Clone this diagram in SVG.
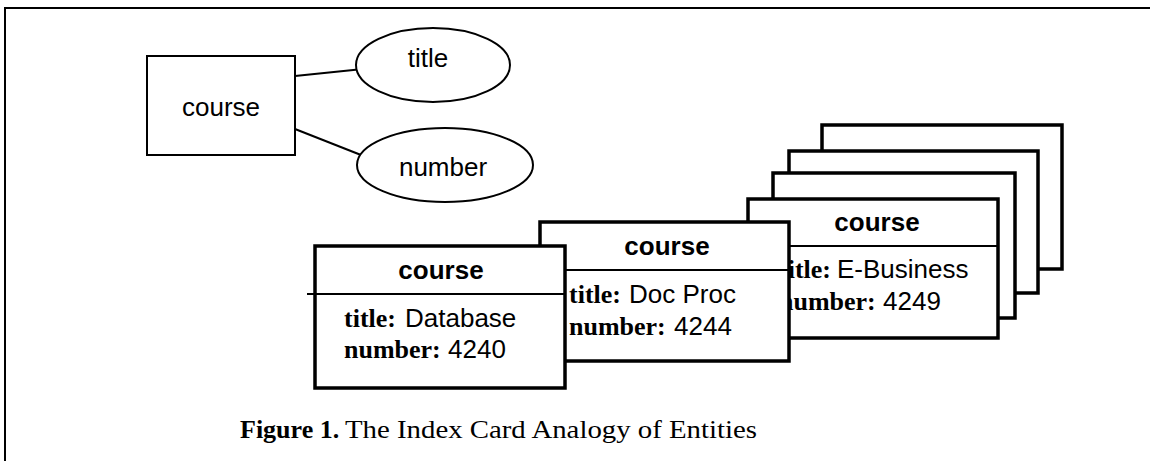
<svg xmlns="http://www.w3.org/2000/svg" width="1150" height="461" viewBox="0 0 1150 461">
  <style>
    .frame { fill: none; stroke: #000; stroke-width: 2; }
    .entity { fill: #fff; stroke: #000; stroke-width: 2; }
    .attr { fill: #fff; stroke: #000; stroke-width: 2; }
    .link { stroke: #000; stroke-width: 2; fill: none; }
    .card { fill: #fff; stroke: #000; stroke-width: 3.5; }
    .rule { stroke: #000; stroke-width: 2; }
    .sans { font-family: "Liberation Sans", Arial, sans-serif; font-size: 26px; fill: #000; }
    .head { font-family: "Liberation Sans", Arial, sans-serif; font-size: 26px; font-weight: bold; fill: #000; }
    .key { font-family: "Liberation Serif", "Times New Roman", serif; font-weight: bold; }
    .cap { font-family: "Liberation Serif", "Times New Roman", serif; font-size: 26px; fill: #000; }
  </style>

  <!-- page frame -->
  <path class="frame" d="M5,461 V8 H1150"/>

  <!-- connectors between entity and attributes -->
  <g id="connectors">
    <line class="link" x1="295" y1="76" x2="363" y2="69"/>
    <line class="link" x1="295" y1="129" x2="361" y2="155"/>
  </g>

  <g id="entity-course">
    <rect class="entity" x="147" y="56" width="148" height="99"/>
    <text class="sans" x="221" y="116" text-anchor="middle">course</text>
  </g>

  <g id="attr-title">
    <ellipse class="attr" cx="433" cy="65" rx="77" ry="37"/>
    <text class="sans" x="428" y="67" text-anchor="middle">title</text>
  </g>

  <g id="attr-number">
    <ellipse class="attr" cx="445" cy="165" rx="88" ry="37"/>
    <text class="sans" x="443" y="176" text-anchor="middle">number</text>
  </g>

  <!-- stacked index cards, back to front -->
  <g id="card-6">
    <rect class="card" x="822" y="125" width="240" height="144"/>
  </g>
  <g id="card-5">
    <rect class="card" x="789" y="151" width="249" height="142"/>
  </g>
  <g id="card-4">
    <rect class="card" x="773" y="173" width="242" height="145"/>
  </g>
  <g id="card-3">
    <rect class="card" x="748" y="199" width="250" height="139"/>
    <line class="rule" x1="748" y1="246" x2="998" y2="246"/>
    <text class="head" x="877" y="231" text-anchor="middle">course</text>
    <text class="sans" y="278"><tspan class="key" x="779">title:</tspan><tspan x="837">E-Business</tspan></text>
    <text class="sans" y="310"><tspan class="key" x="779">number:</tspan><tspan x="883">4249</tspan></text>
  </g>
  <g id="card-2">
    <rect class="card" x="540" y="222" width="249" height="139"/>
    <line class="rule" x1="540" y1="270" x2="789" y2="270"/>
    <text class="head" x="667" y="255" text-anchor="middle">course</text>
    <text class="sans" y="303"><tspan class="key" x="569">title:</tspan><tspan x="629">Doc Proc</tspan></text>
    <text class="sans" y="335"><tspan class="key" x="569">number:</tspan><tspan x="674">4244</tspan></text>
  </g>
  <g id="card-1">
    <rect class="card" x="315" y="246" width="250" height="142"/>
    <line class="rule" x1="307" y1="294" x2="565" y2="294"/>
    <text class="head" x="441" y="279" text-anchor="middle">course</text>
    <text class="sans" y="327"><tspan class="key" x="344">title:</tspan><tspan x="405">Database</tspan></text>
    <text class="sans" y="358"><tspan class="key" x="344">number:</tspan><tspan x="448">4240</tspan></text>
  </g>

  <!-- caption -->
  <text class="cap" y="438"><tspan x="240" font-weight="bold">Figure 1.</tspan><tspan x="345" textLength="412" lengthAdjust="spacingAndGlyphs">The Index Card Analogy of Entities</tspan></text>
</svg>
